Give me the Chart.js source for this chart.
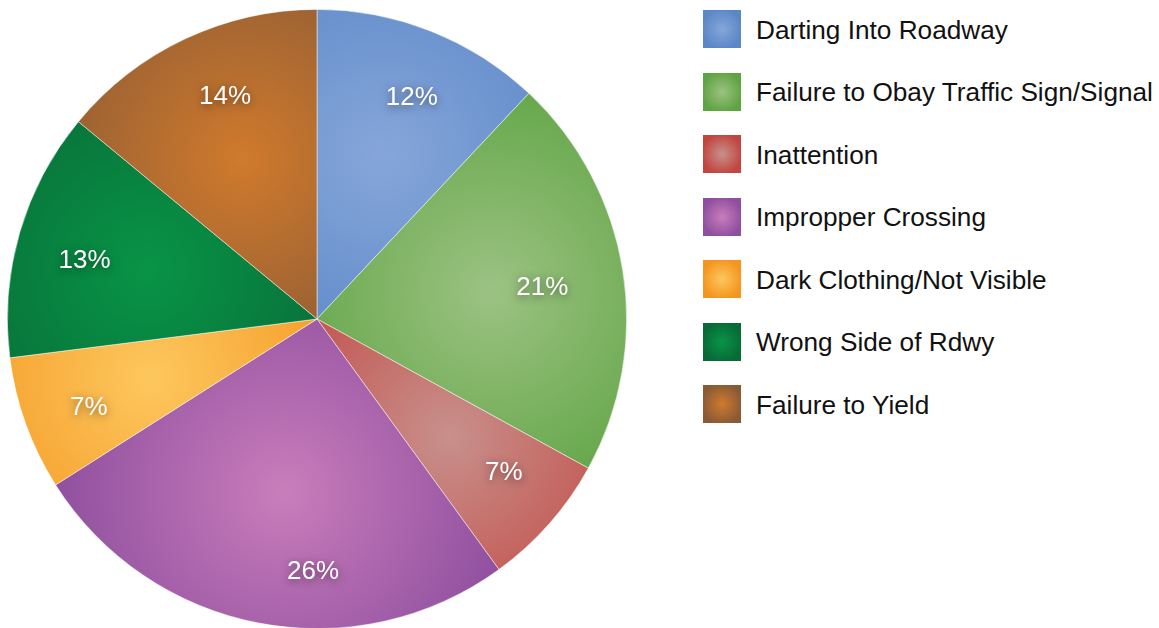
<!DOCTYPE html>
<html>
<head>
<meta charset="utf-8">
<script src="https://cdn.jsdelivr.net/npm/chart.js@4/dist/chart.umd.min.js"></script>
<style>
  html, body { margin: 0; padding: 0; background: #fff; overflow: hidden; }
  body { width: 1159px; height: 628px; position: relative; font-family: "Liberation Sans", Arial, sans-serif; }
  #pieBox { position: absolute; left: 7px; top: 9px; width: 620px; height: 620px; }
  #legend { position: absolute; left: 703px; top: 10px; }
  .item { display: flex; align-items: center; height: 38px; margin-bottom: 24.5px; }
  .swatch { width: 38px; height: 38px; margin-right: 15px; }
  .item span { font-size: 26.2px; color: #111; position: relative; top: 1px; }
</style>
</head>
<body>
<div id="pieBox"><canvas id="pie"></canvas></div>
<div id="legend"></div>
<script>
// 원인별 비율 (%)
const categories = ['Darting Into Roadway', 'Failure to Obay Traffic Sign/Signal', 'Inattention',
  'Impropper Crossing', 'Dark Clothing/Not Visible', 'Wrong Side of Rdwy', 'Failure to Yield'];
const shares = [12, 21, 7, 26, 7, 13, 14];
// 가장자리 색 / 가운데 밝은 색
const edgeColors = ['#5b87c7', '#5fa443', '#c2453f', '#8f4f9f', '#f4951f', '#086a36', '#8a5a36'];
const glowColors = ['#86a6da', '#9cc283', '#c8908c', '#c97dbb', '#fdc75e', '#089447', '#d07a2c'];
// 라벨 위치 보정 (각도 °, 반지름 비율)
const labelTurn = [1.5, 0.9, -2.1, -9.9, -1.3, -1.8, 2.8];
const labelDist = [0.78, 0.735, 0.78, 0.815, 0.79, 0.775, 0.78];

// HTML 범례
const legendEl = document.getElementById('legend');
categories.forEach((name, i) => {
  const row = document.createElement('div');
  row.className = 'item';
  const sw = document.createElement('div');
  sw.className = 'swatch';
  sw.style.background = `radial-gradient(circle at 50% 50%, ${glowColors[i]} 0%, ${edgeColors[i]} 75%)`;
  const label = document.createElement('span');
  label.textContent = name;
  row.appendChild(sw);
  row.appendChild(label);
  legendEl.appendChild(row);
});

const total = shares.reduce((a, b) => a + b, 0);

// 조각마다 방사형 그라데이션
function sliceFill(ctx) {
  const chart = ctx.chart;
  const area = chart.chartArea;
  if (!area) return edgeColors[ctx.dataIndex];
  const cx = (area.left + area.right) / 2;
  const cy = (area.top + area.bottom) / 2;
  const r = Math.min(area.right - area.left, area.bottom - area.top) / 2;
  let before = 0;
  for (let k = 0; k < ctx.dataIndex; k++) before += shares[k];
  const mid = -Math.PI / 2 + (before + shares[ctx.dataIndex] / 2) / total * Math.PI * 2;
  const gx = cx + Math.cos(mid) * r * 0.57;
  const gy = cy + Math.sin(mid) * r * 0.57;
  const g = chart.ctx.createRadialGradient(gx, gy, 0, gx, gy, r * 0.75);
  g.addColorStop(0, glowColors[ctx.dataIndex]);
  g.addColorStop(1, edgeColors[ctx.dataIndex]);
  return g;
}

// 퍼센트 라벨
const pctLabels = {
  id: 'pctLabels',
  afterDatasetsDraw(chart) {
    const c = chart.ctx;
    const meta = chart.getDatasetMeta(0);
    c.save();
    c.font = '26px "Liberation Sans", Arial, sans-serif';
    c.fillStyle = '#fff';
    c.textAlign = 'center';
    c.textBaseline = 'middle';
    c.shadowColor = 'rgba(0,0,0,0.5)';
    c.shadowBlur = 8;
    c.shadowOffsetX = 0;
    c.shadowOffsetY = 2;
    meta.data.forEach((arc, i) => {
      const mid = (arc.startAngle + arc.endAngle) / 2 + labelTurn[i] * Math.PI / 180;
      const d = arc.outerRadius * labelDist[i];
      c.fillText(shares[i] + '%', arc.x + Math.cos(mid) * d, arc.y + Math.sin(mid) * d + 1);
    });
    c.restore();
  }
};

new Chart(document.getElementById('pie'), {
  type: 'pie',
  data: {
    labels: categories,
    datasets: [{
      data: shares,
      backgroundColor: sliceFill,
      borderColor: 'rgba(255,255,255,0.6)',
      borderWidth: 0.8
    }]
  },
  options: {
    responsive: true,
    maintainAspectRatio: false,
    animation: false,
    layout: { padding: 0 },
    plugins: {
      legend: { display: false },
      tooltip: { enabled: false }
    }
  },
  plugins: [pctLabels]
});
</script>
</body>
</html>
